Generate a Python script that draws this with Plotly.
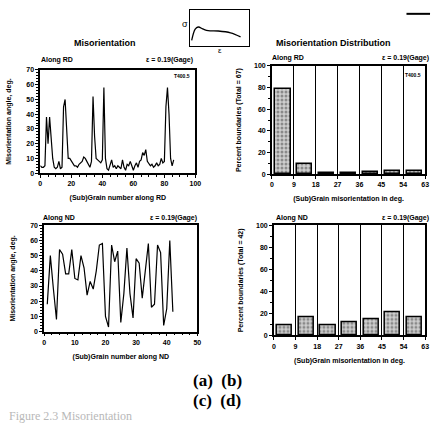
import plotly.graph_objects as go

W, H = 438, 427

# ---------------- data ----------------
rd_grain = list(range(0, 87))
rd_angle = [5, 4, 4, 5, 38, 20, 38, 22, 10, 4,
            3, 4, 8, 3, 4, 45, 50, 30, 10, 10,
            8, 7, 5, 5, 4, 6, 7, 8, 11, 10,
            8, 6, 4, 8, 52, 25, 10, 9, 8, 7,
            9, 58, 10, 3, 2, 5, 9, 4, 5, 3,
            5, 4, 3, 9, 4, 2, 6, 5, 8, 5,
            2, 5, 7, 4, 8, 9, 14, 12, 16, 8,
            6, 5, 6, 4, 5, 7, 5, 6, 10, 7,
            8, 45, 58, 40, 10, 5, 9]

nd_grain = list(range(1, 43))
nd_angle = [18, 50, 28, 8, 54, 51, 38, 38, 54, 35,
            34, 50, 42, 24, 33, 28, 40, 57, 58, 10,
            3, 57, 46, 53, 6, 25, 55, 25, 9, 48,
            45, 22, 40, 58, 16, 18, 57, 52, 4, 15,
            60, 13]

bin_centers = [4.5, 13.5, 22.5, 31.5, 40.5, 49.5, 58.5]
bin_ticks = [0, 9, 18, 27, 36, 45, 54, 63]
rd_percent = [79.1, 9.0, 1.5, 1.0, 2.0, 3.0, 3.0]
nd_percent = [9.5, 16.7, 9.5, 11.9, 14.3, 21.4, 16.7]

curve_strain = [0.02, 0.08, 0.13, 0.22, 0.30, 0.47, 0.68, 0.85]
curve_stress = [0.16, 0.47, 0.53, 0.47, 0.43, 0.42, 0.37, 0.26]

# ---------------- helpers ----------------
def xd(a, b):
    return [a / W, b / W]

def yd(top, bottom):
    return [(H - bottom) / H, (H - top) / H]

def px(x):
    return x / W

def py(y):
    return (H - y) / H

FONT = "Liberation Sans"
tickfont = dict(family=FONT, size=7, color="black", weight="bold")

fig = go.Figure()

fig.add_trace(go.Scatter(x=rd_grain, y=rd_angle, mode="lines",
                         line=dict(color="black", width=1.2),
                         xaxis="x", yaxis="y", showlegend=False))
fig.add_trace(go.Scatter(x=nd_grain, y=nd_angle, mode="lines",
                         line=dict(color="black", width=1.2),
                         xaxis="x3", yaxis="y3", showlegend=False))

bar_marker = dict(color="#cfcfcf",
                  line=dict(color="black", width=1.5),
                  pattern=dict(shape=".", fgcolor="#444444", size=4, solidity=0.45))
fig.add_trace(go.Bar(x=bin_centers, y=rd_percent, width=6.3, marker=bar_marker,
                     xaxis="x2", yaxis="y2", showlegend=False))
fig.add_trace(go.Bar(x=bin_centers, y=nd_percent, width=6.3, marker=bar_marker,
                     xaxis="x4", yaxis="y4", showlegend=False))

fig.add_trace(go.Scatter(x=curve_strain, y=curve_stress, mode="lines",
                         line=dict(color="black", width=1.3, shape="spline"),
                         xaxis="x5", yaxis="y5", showlegend=False))

def axis(domain, rng, dtick, minor, anchor, title=None, grid=False, tickvals=None,
         standoff=4):
    d = dict(domain=domain, range=rng, anchor=anchor,
             showline=True, linecolor="black", linewidth=1.6, mirror=True,
             ticks="outside", ticklen=3, tickwidth=1.2, tickcolor="black",
             tickfont=tickfont, zeroline=False, showgrid=grid,
             gridcolor="black", gridwidth=1)
    if minor:
        d["minor"] = dict(ticks="outside", ticklen=2, tickcolor="black", dtick=minor,
                          showgrid=False)
    if tickvals is not None:
        d["tickmode"] = "array"
        d["tickvals"] = tickvals
    else:
        d["dtick"] = dtick
        d["tick0"] = 0
    if title:
        d["title"] = dict(text=title, font=dict(family=FONT, size=7, color="black",
                                                weight="bold"), standoff=standoff)
    return d

fig.update_layout(
    width=W, height=H,
    margin=dict(l=0, r=0, t=0, b=0),
    paper_bgcolor="white", plot_bgcolor="white",
    bargap=0,
    xaxis=axis(xd(39, 197), [0, 100], 20, 5, "y", "(Sub)Grain number along RD",
               standoff=9),
    yaxis=axis(yd(67, 172), [0, 70], 10, 2, "x", "Misorientation angle, deg.",
               standoff=14),
    xaxis2=axis(xd(275, 431), [0, 63], None, None, "y2",
                "(Sub)Grain misorientation in deg.", grid=True, tickvals=bin_ticks,
                standoff=9),
    yaxis2=axis(yd(63, 173), [0, 100], 20, 10, "x2", "Percent boundaries (Total = 67)",
                standoff=12),
    xaxis3=axis(xd(43, 199), [0, 50], 10, 2.5, "y3", "(Sub)Grain number along ND",
                standoff=9),
    yaxis3=axis(yd(225, 333), [0, 70], 10, 2, "x3", "Misorientation angle, deg.",
                standoff=14),
    xaxis4=axis(xd(277, 431), [0, 63], None, None, "y4",
                "(Sub)Grain misorientation in deg.", grid=True, tickvals=bin_ticks,
                standoff=9),
    yaxis4=axis(yd(225, 337), [0, 100], 20, 10, "x4", "Percent boundaries (Total = 42)",
                standoff=12),
    xaxis5=dict(domain=xd(192, 252), range=[0, 1], anchor="y5", showline=True,
                linecolor="black", linewidth=1.2, mirror=True, showticklabels=False,
                ticks="", showgrid=False, zeroline=False),
    yaxis5=dict(domain=yd(6, 43), range=[0, 1], anchor="x5", showline=True,
                linecolor="black", linewidth=1.2, mirror=True, showticklabels=False,
                ticks="", showgrid=False, zeroline=False),
)

def note(text, x, y, size=7, xanchor="left", family=FONT, bold=True, color="black"):
    fig.add_annotation(text=text, x=px(x), y=py(y), xref="paper", yref="paper",
                       xanchor=xanchor, yanchor="middle", showarrow=False,
                       font=dict(family=family, size=size, color=color,
                                 weight="bold" if bold else "normal"))

note("Misorientation", 105, 40, size=9, xanchor="center")
note("Misorientation Distribution", 338, 40, size=9, xanchor="center")

note("Along RD", 38, 57)
note("ε = 0.19(Gage)", 197, 57, xanchor="right")
note("T400.5", 194, 73, size=5, xanchor="right")

note("Along RD", 273, 55)
note("ε = 0.19(Gage)", 437, 55, xanchor="right")
note("T400.5", 429, 72, size=5, xanchor="right")

note("Along ND", 40, 218)
note("ε = 0.19(Gage)", 201, 218, xanchor="right")

note("Along ND", 277, 218)
note("ε = 0.19(Gage)", 437, 218, xanchor="right")

note("σ", 186, 20, size=9, xanchor="center", bold=False)
note("ε", 222, 47, size=8, xanchor="center", bold=False)

note("(a)  (b)", 219, 383, size=17, xanchor="center", family="Liberation Serif")
note("(c)  (d)", 219, 403, size=17, xanchor="center", family="Liberation Serif")
note("Figure 2.3 Misorientation", 5, 419, size=12, family="Liberation Serif",
     bold=False, color="#b8b8b8")

fig.add_shape(type="line", xref="paper", yref="paper",
              x0=px(412), x1=px(436), y0=py(10), y1=py(10),
              line=dict(color="black", width=2))

fig.write_html("out.html",
               config={"displayModeBar": False},
               post_script="document.body.style.margin='0';"
                           "document.body.style.overflow='hidden';")
